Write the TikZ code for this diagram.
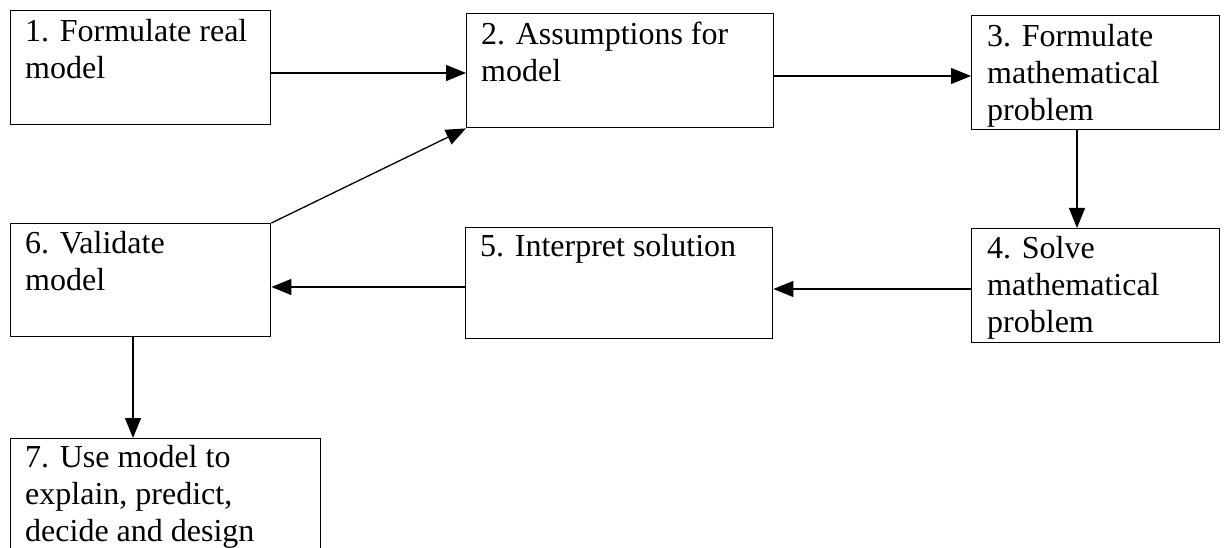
\documentclass[tikz,border=0pt]{standalone}
\usepackage{fontspec}
\setmainfont{Liberation Serif}
\usetikzlibrary{arrows.meta}
\begin{document}
\begin{tikzpicture}[x=1pt,y=-1pt,
  box/.style={draw, line width=1.4pt, anchor=north west, inner sep=0pt},
  lbl/.style={anchor=north west, inner sep=0pt, align=left, font=\fontsize{32}{37}\selectfont},
  arr/.style={line width=1.3pt, -{Triangle[length=20pt,width=16pt]}}]
\useasboundingbox (0,0) rectangle (1224,548);
\clip (0,0) rectangle (1224,548);
% boxes
\node[box, minimum width=260pt, minimum height=114pt] (b1) at (10,10) {};
\node[box, minimum width=307pt, minimum height=114pt] (b2) at (466,13) {};
\node[box, minimum width=248pt, minimum height=114pt] (b3) at (971,15) {};
\node[box, minimum width=248pt, minimum height=114pt] (b4) at (971,228) {};
\node[box, minimum width=307pt, minimum height=111pt] (b5) at (465,227) {};
\node[box, minimum width=260pt, minimum height=113pt] (b6) at (10,223) {};
\node[box, minimum width=310pt, minimum height=140pt] (b7) at (10,438) {};
% texts
\node[lbl] (t1) at ([xshift=15pt,yshift=-9pt]b1.north west) {1. Formulate real\\model};
\node[lbl] (t2) at ([xshift=15pt,yshift=-9pt]b2.north west) {2. Assumptions for\\model};
\node[lbl] (t3) at ([xshift=16pt,yshift=-9pt]b3.north west) {3. Formulate\\mathematical\\problem};
\node[lbl] (t4) at ([xshift=16pt,yshift=-8pt]b4.north west) {4. Solve\\mathematical\\problem};
\node[lbl] (t5) at ([xshift=15pt,yshift=-7pt]b5.north west) {5. Interpret solution};
\node[lbl] (t6) at ([xshift=15pt,yshift=-8pt]b6.north west) {6. Validate\\model};
\node[lbl] (t7) at ([xshift=15pt,yshift=-7pt]b7.north west) {7. Use model to\\explain, predict,\\decide and design};
% connectors
\draw[arr] (b1.east |- 0,73) -- (b2.west |- 0,73);
\draw[arr] (b2.east |- 0,76) -- (b3.west |- 0,76);
\draw[arr] (b3.south -| 1077,0) -- (b4.north -| 1077,0);
\draw[arr] (b4.west |- 0,289) -- (b5.east |- 0,289);
\draw[arr] (b5.west |- 0,287) -- (b6.east |- 0,287);
\draw[arr] (b6.north east) -- (b2.south west);
\draw[arr] (b6.south -| 133,0) -- (b7.north -| 133,0);
\end{tikzpicture}
\end{document}
